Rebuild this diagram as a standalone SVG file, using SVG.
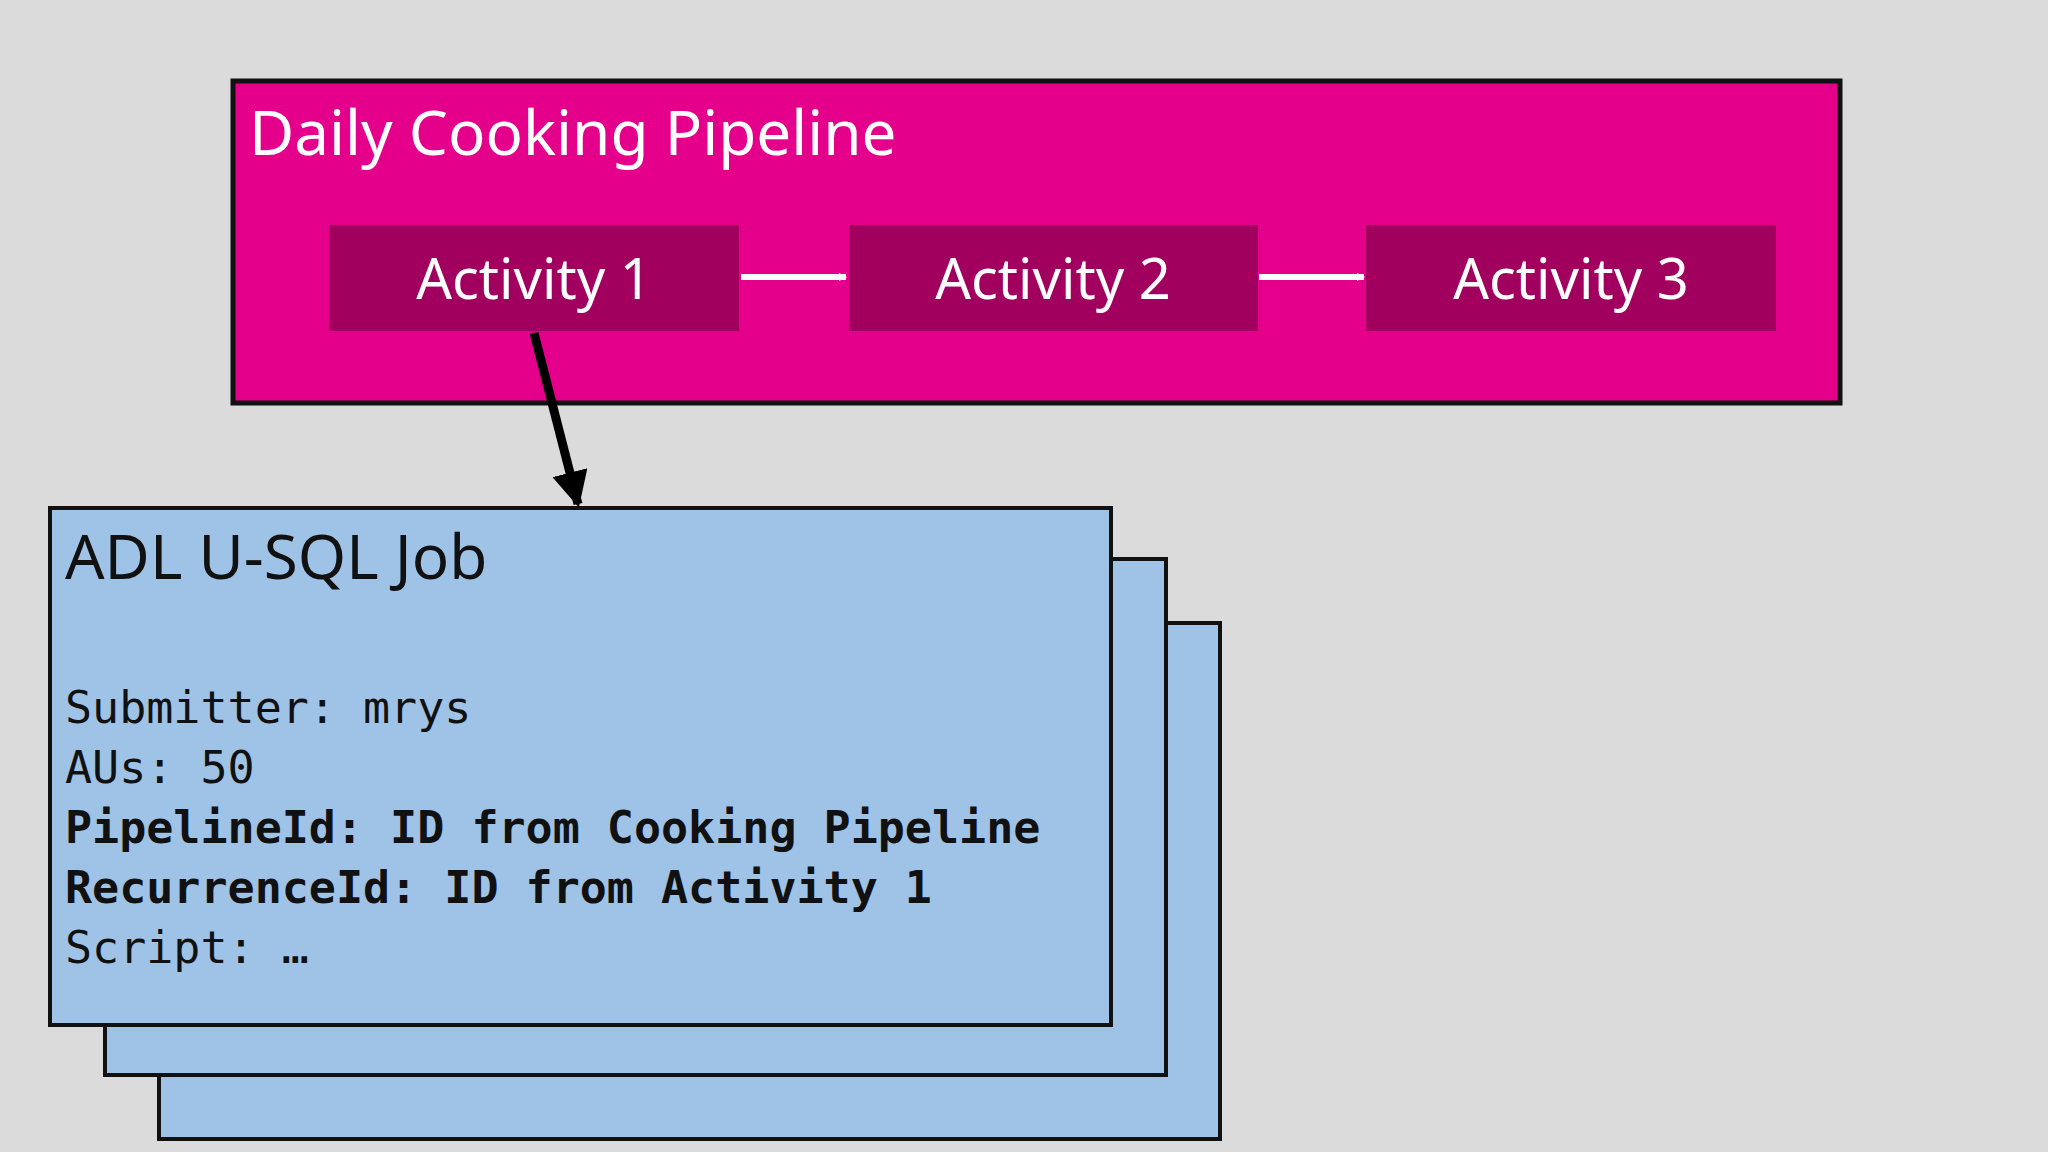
<svg xmlns="http://www.w3.org/2000/svg" width="2048" height="1152" viewBox="0 0 2048 1152">
<defs>
<style>
.t{font-family:"Noto Sans","Open Sans",sans-serif;}
.act{fill:#a1005f;}
.at{font-family:"Noto Sans","Open Sans",sans-serif;font-size:56px;fill:#fff;text-anchor:middle;}
.m{font-family:"DejaVu Sans Mono","Liberation Mono",monospace;font-size:45px;fill:#111;}
.card{fill:#9fc3e7;stroke:#111;stroke-width:4;}
</style>
<marker id="wh" markerWidth="8" markerHeight="8" refX="7" refY="4" orient="auto" markerUnits="userSpaceOnUse" viewBox="0 0 8 8"><path d="M0,0L8,4L0,8z" fill="#fff"/></marker>
<marker id="bk" viewBox="0 0 10 10" refX="9" refY="5" markerWidth="36" markerHeight="36" orient="auto" markerUnits="userSpaceOnUse"><path d="M0,0L10,5L0,10z" fill="#000"/></marker>
</defs>
<rect width="2048" height="1152" fill="#dcdbdc"/>
<g id="pipeline">
<rect x="233" y="81" width="1607" height="322" fill="#e5008b" stroke="#111" stroke-width="5"/>
<text class="t" x="249" y="155" font-size="62" fill="#fff">Daily Cooking Pipeline</text>
</g>
<g id="activity1"><rect class="act" x="329" y="225" width="410" height="106"/><text class="at" x="534" y="299">Activity 1</text></g>
<g id="activity2"><rect class="act" x="849" y="225" width="409" height="106"/><text class="at" x="1053" y="299">Activity 2</text></g>
<g id="activity3"><rect class="act" x="1366" y="225" width="410" height="106"/><text class="at" x="1571" y="299">Activity 3</text></g>
<g id="job">
<rect class="card" x="159" y="623" width="1061" height="516"/>
<rect class="card" x="105" y="559" width="1061" height="516"/>
<rect class="card" x="50" y="508" width="1061" height="517"/>
<text class="t" x="65" y="579" font-size="62" fill="#111">ADL U-SQL Job</text>
<text class="m" x="65" y="723">Submitter: mrys</text>
<text class="m" x="65" y="783">AUs: 50</text>
<text class="m" x="65" y="843" font-weight="bold">PipelineId: ID from Cooking Pipeline</text>
<text class="m" x="65" y="903" font-weight="bold">RecurrenceId: ID from Activity 1</text>
<text class="m" x="65" y="963">Script: …</text>
</g>
<g id="connectors">
<line x1="741" y1="277" x2="846" y2="277" stroke="#fff" stroke-width="6" marker-end="url(#wh)"/>
<line x1="1259" y1="277" x2="1364" y2="277" stroke="#fff" stroke-width="6" marker-end="url(#wh)"/>
<line x1="534" y1="333" x2="578" y2="504" stroke="#000" stroke-width="9" marker-end="url(#bk)"/>
</g>
</svg>
